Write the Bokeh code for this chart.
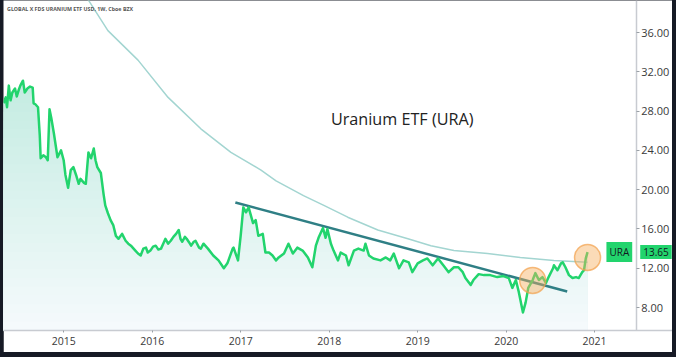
import numpy as np
from bokeh.plotting import figure
from bokeh.models import Label, FixedTicker, NumeralTickFormatter, Range1d
from bokeh.layouts import column
from bokeh.embed import file_html
from bokeh.resources import INLINE

# ---- data (decimal years / USD) ----
dates = [
    2014.32, 2014.345, 2014.36, 2014.38, 2014.40, 2014.42, 2014.45, 2014.47, 2014.49, 2014.51,
    2014.54, 2014.56, 2014.59, 2014.62, 2014.65, 2014.66, 2014.68, 2014.71, 2014.73, 2014.74,
    2014.77, 2014.80, 2014.82, 2014.84, 2014.86, 2014.89, 2014.91, 2014.93, 2014.97, 2015.00,
    2015.02, 2015.05, 2015.08, 2015.11, 2015.14, 2015.17, 2015.19, 2015.23, 2015.25, 2015.28,
    2015.31, 2015.34, 2015.36, 2015.38, 2015.42, 2015.45, 2015.47, 2015.50, 2015.53, 2015.56,
    2015.59, 2015.62, 2015.66, 2015.70, 2015.73, 2015.76, 2015.79, 2015.81, 2015.84, 2015.87,
    2015.90, 2015.93, 2015.95, 2015.98, 2016.01, 2016.04, 2016.07, 2016.10, 2016.13, 2016.15,
    2016.18, 2016.21, 2016.24, 2016.27, 2016.30, 2016.32, 2016.34, 2016.37, 2016.39, 2016.42,
    2016.44, 2016.47, 2016.49, 2016.53, 2016.55, 2016.58, 2016.63, 2016.69, 2016.75, 2016.81,
    2016.85, 2016.91, 2016.92, 2016.97, 2017.00, 2017.03, 2017.06, 2017.09, 2017.14, 2017.17,
    2017.20, 2017.25, 2017.28, 2017.32, 2017.36, 2017.40, 2017.43, 2017.49, 2017.54, 2017.59,
    2017.64, 2017.70, 2017.76, 2017.81, 2017.85, 2017.88, 2017.93, 2017.96, 2017.98, 2018.02,
    2018.05, 2018.10, 2018.13, 2018.19, 2018.22, 2018.28, 2018.33, 2018.39, 2018.41, 2018.45,
    2018.50, 2018.58, 2018.64, 2018.69, 2018.73, 2018.79, 2018.84, 2018.90, 2018.94, 2019.00,
    2019.06, 2019.11, 2019.17, 2019.23, 2019.29, 2019.35, 2019.41, 2019.46, 2019.51, 2019.54,
    2019.60, 2019.63, 2019.69, 2019.75, 2019.82, 2019.90, 2019.97, 2020.03, 2020.07, 2020.11,
    2020.14, 2020.19, 2020.22, 2020.25, 2020.30, 2020.33, 2020.37, 2020.41, 2020.45, 2020.48,
    2020.53, 2020.54, 2020.58, 2020.62, 2020.64, 2020.67, 2020.71, 2020.75, 2020.79, 2020.82,
    2020.86, 2020.88, 2020.90, 2020.92]

prices = [
    28.8, 29.4, 28.4, 30.6, 29.1, 29.9, 30.3, 29.5, 30.1, 30.6,
    31.1, 29.9, 30.3, 30.5, 30.4, 28.8, 28.7, 28.4, 25.5, 23.2,
    23.5, 23.3, 23.0, 28.2, 27.3, 25.7, 24.5, 23.3, 24.0, 23.0,
    21.5, 20.2, 22.0, 22.3, 21.5, 20.6, 21.1, 20.7, 20.6, 23.8,
    23.2, 24.2, 23.0, 22.3, 21.7, 19.6, 18.4, 17.6, 16.9, 16.4,
    15.3, 15.0, 15.5, 14.8, 14.5, 14.3, 14.0, 13.8, 13.5, 13.3,
    14.0, 14.1, 13.6, 13.8, 14.2, 14.3, 13.9, 14.0, 14.6, 15.0,
    14.5, 14.8, 15.2, 15.5, 15.9, 15.0, 14.7, 15.2, 15.0, 14.6,
    14.3, 14.7, 14.8, 14.1, 14.0, 14.5, 14.0, 13.3, 12.8, 12.0,
    12.5, 14.0, 14.1, 12.8, 15.3, 18.2, 17.7, 18.2, 16.6, 16.9,
    15.3, 15.5, 13.6, 13.6, 13.3, 12.8, 13.1, 13.5, 14.5, 13.5,
    14.1, 13.8, 13.1, 12.1, 14.3, 15.1, 16.1, 15.1, 16.0, 14.5,
    13.8, 12.8, 13.6, 13.3, 12.3, 13.8, 14.0, 13.8, 14.5, 13.3,
    13.0, 12.8, 13.1, 12.8, 13.5, 12.0, 12.8, 12.6, 11.6, 12.5,
    12.8, 13.0, 12.3, 13.0, 12.3, 11.6, 12.1, 12.1, 11.6, 11.0,
    10.3, 10.8, 11.4, 11.3, 11.3, 11.1, 11.2, 11.0, 10.0, 10.8,
    9.7, 7.5, 8.5, 10.0, 10.8, 11.5, 10.8, 11.1, 10.5, 11.1,
    12.0, 12.3, 11.8, 12.5, 12.6, 12.1, 11.3, 11.0, 11.1, 11.0,
    11.6, 11.8, 13.0, 13.65]

ma_dates = [2015.19, 2015.28, 2015.50, 2015.84, 2016.18, 2016.55, 2016.89, 2017.23, 2017.40,
            2017.71, 2017.94, 2018.21, 2018.55, 2018.89, 2019.15, 2019.41, 2019.79, 2020.16,
            2020.54, 2020.92]
ma_values = [40.5, 39.3, 36.2, 33.2, 29.4, 26.2, 23.8, 22.0, 20.9,
             19.4, 18.4, 17.2, 15.9, 15.0, 14.3, 13.8, 13.5, 13.1,
             12.8, 12.6]

trend_dates = [2016.94, 2020.69]
trend_values = [18.7, 9.63]

circle_dates = [2020.30, 2020.92]
circle_values = [10.76, 13.10]

x_ticks = [2015, 2016, 2017, 2018, 2019, 2020, 2021]
y_ticks = [8, 12, 16, 20, 24, 28, 32, 36]
last_value = 13.65
ticker_name = "URA"
header = "GLOBAL X FDS URANIUM ETF USD, 1W, Cboe BZX"
annotation = "Uranium ETF (URA)"

FONT = "Open Sans"
Y_LO, Y_HI = 5.66, 39.27
X_LO, X_HI = 2014.32, 2021.88      # full chart width incl. price-scale strip
X_SCALE = 2021.47                  # where the price scale sits

p = figure(width=669, height=352, output_backend="svg", toolbar_location=None,
           x_range=Range1d(X_LO, X_HI), y_range=Range1d(Y_LO, Y_HI),
           y_axis_location="right",
           min_border_left=0, min_border_top=0, min_border_right=0, min_border_bottom=22,
           background_fill_color="white", border_fill_color="white",
           outline_line_color=None)
p.grid.visible = False

# gradient area under the price line (stacked bands)
xs = np.array(dates)
ys = np.array(prices)
levels = np.linspace(Y_LO, 31.5, 30)
c_top = np.array([196, 236, 226])
c_bot = np.array([247, 251, 253])
for k in range(len(levels) - 1, 0, -1):
    f = (levels[k] - Y_LO) / (31.5 - Y_LO)
    c = (c_bot + (c_top - c_bot) * f).astype(int)
    col = "#%02x%02x%02x" % tuple(c)
    p.varea(x=xs, y1=np.full_like(ys, Y_LO), y2=np.minimum(ys, levels[k]),
            fill_color=col, fill_alpha=1.0)

p.line(ma_dates, ma_values, line_color="#a3d5d1", line_width=1.5)
p.line(trend_dates, trend_values, line_color="#2f7f85", line_width=2.5)
p.line(dates, prices, line_color="#22d46d", line_width=2.5, line_join="round")
p.scatter(circle_dates, circle_values, size=26, fill_color="#f7b060", fill_alpha=0.45,
          line_color="#f2a04a", line_alpha=0.7, line_width=1.5)

# axes
for ax in (p.xaxis[0], p.yaxis[0]):
    ax.axis_line_color = "#c8cbd1"
    ax.axis_line_width = 1.5
    ax.major_tick_line_color = "#9aa0a6"
    ax.major_tick_in = 0
    ax.minor_tick_line_color = None
    ax.major_label_text_font = FONT
    ax.major_label_text_color = "#3a3a3a"

p.xaxis.ticker = FixedTicker(ticks=x_ticks)
p.xaxis.major_tick_out = 2
p.xaxis.major_label_standoff = 4
p.xaxis.major_label_text_font_size = "10.5px"

p.yaxis.fixed_location = X_SCALE
p.yaxis.ticker = FixedTicker(ticks=y_ticks)
p.yaxis.formatter = NumeralTickFormatter(format="0.00")
p.yaxis.major_tick_out = 3
p.yaxis.major_label_standoff = 2
p.yaxis.major_label_text_font_size = "11px"

# texts
p.add_layout(Label(x=2014.36, y=38.45, text=header, text_font=FONT, text_font_size="5.3px",
                   text_font_style="bold", text_color="#555555", text_baseline="middle"))
p.add_layout(Label(x=2018.02, y=27.25, text=annotation, text_font=FONT, text_font_size="16.2px",
                   text_color="#222222", text_baseline="middle"))
p.add_layout(Label(x=X_SCALE, y=last_value, x_offset=-4, text=ticker_name, text_font=FONT,
                   text_font_size="10px", text_color="#131722", text_align="right",
                   text_baseline="middle", background_fill_color="#22d46d", padding=3))
p.add_layout(Label(x=X_SCALE, y=last_value, x_offset=4, text=f"{last_value:.2f}", text_font=FONT,
                   text_font_size="10px", text_color="#131722", text_align="left",
                   text_baseline="middle", background_fill_color="#22d46d", padding=3))

p.margin = (0, 4, 5, 3)
layout = column(p, width=676, height=357, styles={"background-color": "#161a25"})

open("out.html", "w").write(file_html(layout, INLINE))
